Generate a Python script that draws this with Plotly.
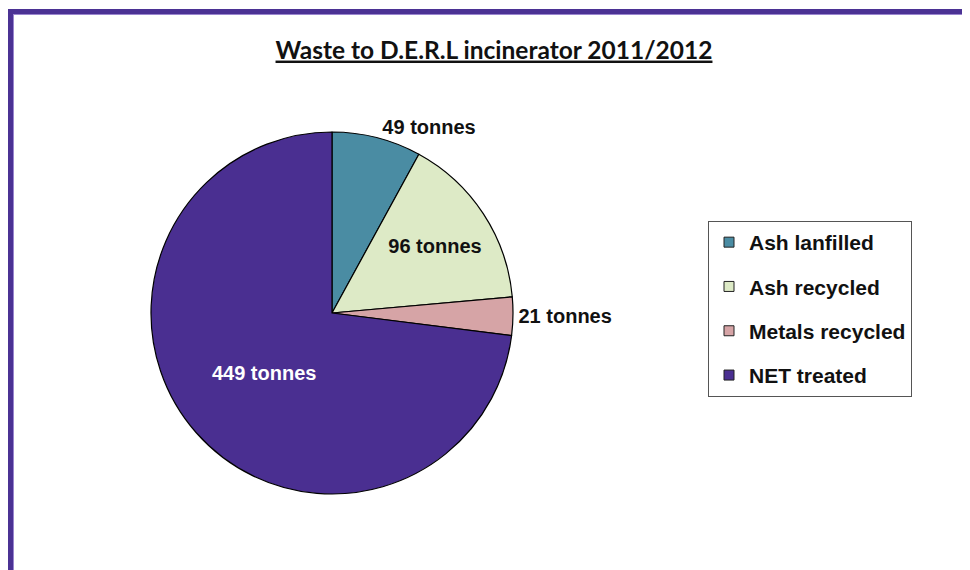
import plotly.graph_objects as go

categories = ["Ash lanfilled", "Ash recycled", "Metals recycled", "NET treated"]
values = [49, 96, 21, 449]
unit = "tonnes"
colors = ["#4A8CA3", "#DDEAC6", "#D6A4A6", "#4A2F91"]
text_colors = ["#111111", "#111111", "#111111", "#FFFFFF"]
text_positions = ["outside", "inside", "outside", "inside"]
title = "Waste to D.E.R.L incinerator 2011/2012"

W, H = 970, 570
OFF = 8  # page body margin


def px(x):
    return (x - OFF) / W


def py(y):
    return 1 - (y - OFF) / H


fig = go.Figure()
fig.add_trace(go.Pie(
    labels=categories,
    values=values,
    sort=False,
    direction="clockwise",
    rotation=0,
    marker=dict(colors=colors, line=dict(color="#000000", width=1.2)),
    texttemplate="<b>%{value} " + unit + "</b>",
    textposition=text_positions,
    insidetextorientation="horizontal",
    textfont=dict(family="Liberation Sans", size=20, color=text_colors),
    outsidetextfont=dict(family="Liberation Sans", size=20, color="#111111"),
    domain=dict(x=[px(151), px(513)], y=[py(494), py(132)]),
    showlegend=False,
    hoverinfo="label+value",
))

# legend entries (one per category) to control spacing
for name, col in zip(categories, colors):
    fig.add_trace(go.Scatter(
        x=[None], y=[None], mode="markers", name="<b>" + name + "</b>", legendgroup=name,
        marker=dict(symbol="square", size=10, color=col, line=dict(color="#222222", width=1)),
    ))

fig.update_layout(
    width=W, height=H,
    margin=dict(l=0, r=0, t=0, b=0),
    paper_bgcolor="white", plot_bgcolor="white",
    xaxis=dict(visible=False), yaxis=dict(visible=False),
    title=dict(text="<b><u>" + title + "</u></b>", x=px(494), xanchor="center",
               y=py(50), yanchor="middle",
               font=dict(family="Lato", size=24.5, color="#111111")),
    legend=dict(
        x=px(708), y=py(221), xanchor="left", yanchor="top",
        bordercolor="#555555", borderwidth=1, bgcolor="white",
        font=dict(family="Liberation Sans", size=21, color="#111111"),
        traceorder="grouped", tracegroupgap=14, itemwidth=30,
    ),
    shapes=[
        dict(type="line", xref="paper", yref="paper", x0=px(10.5), x1=px(10.5), y0=py(600), y1=py(9),
             line=dict(color="#4B3294", width=5)),
        dict(type="line", xref="paper", yref="paper", x0=px(8), x1=1.02, y0=py(11.5), y1=py(11.5),
             line=dict(color="#4B3294", width=5)),
        dict(type="line", xref="paper", yref="paper", x0=px(13.5), x1=px(13.5), y0=py(600), y1=py(14),
             line=dict(color="#9A86CF", width=1)),
        dict(type="line", xref="paper", yref="paper", x0=px(13), x1=1.02, y0=py(14.5), y1=py(14.5),
             line=dict(color="#9A86CF", width=1)),
    ],
)

fig.write_html("out.html")
